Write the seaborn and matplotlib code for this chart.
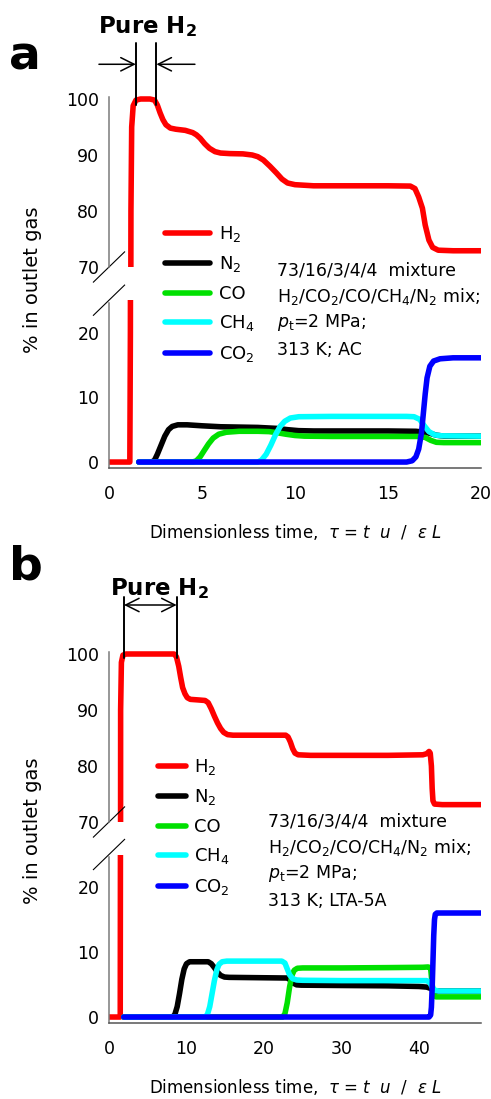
import matplotlib
matplotlib.use("Agg")
import matplotlib.pyplot as plt
from matplotlib.ticker import MultipleLocator
import seaborn as sns

# ---------------- panel a : activated carbon (AC), tau 0-20 ----------------
h2_a_tau = [0, 1.12, 1.15, 1.18, 1.22, 1.3, 1.45, 1.7, 2.2, 2.45, 2.6, 2.75, 2.9, 3.06, 3.3,
            3.6, 4.1, 4.5, 4.7, 4.9, 5.15, 5.4, 5.7, 6.0, 6.5, 7.2, 7.7, 8.0, 8.3, 8.65,
            9.0, 9.3, 9.6, 10.0, 11.0, 13.0, 15.0, 16.2, 16.45, 16.65, 16.85, 17.0, 17.2,
            17.4, 17.7, 18.5, 20.0]
h2_a_pct = [0, 0, 20, 80, 95, 98.8, 99.8, 100, 100, 99.8, 98.9, 97.5, 96.3, 95.4, 94.8,
            94.6, 94.4, 94.0, 93.6, 93.0, 92.0, 91.2, 90.6, 90.35, 90.25, 90.2, 90.0, 89.7,
            89.1, 88.0, 86.8, 85.7, 85.0, 84.7, 84.5, 84.5, 84.5, 84.45, 84.0, 82.5, 80.5,
            77.5, 74.8, 73.5, 73.0, 72.9, 72.9]

n2_a_tau = [1.6, 2.3, 2.45, 2.6, 2.8, 3.0, 3.2, 3.4, 3.7, 4.2, 5.0, 6.0, 7.0, 8.0, 9.0,
            9.6, 10.2, 11.0, 13.0, 15.0, 16.5, 17.0, 17.3, 17.6, 18.0, 20.0]
n2_a_pct = [0, 0, 0.3, 1.2, 2.6, 4.0, 5.0, 5.5, 5.75, 5.75, 5.6, 5.45, 5.4, 5.35, 5.2,
            5.0, 4.85, 4.8, 4.8, 4.8, 4.75, 4.6, 4.4, 4.15, 4.0, 4.0]

co_a_tau = [1.6, 4.5, 4.7, 4.9, 5.1, 5.35, 5.6, 5.9, 6.3, 7.0, 8.0, 8.6, 9.0, 9.5, 10.0,
            10.5, 12.0, 16.6, 17.0, 17.3, 17.6, 18.0, 20.0]
co_a_pct = [0, 0, 0.2, 0.8, 1.7, 2.8, 3.7, 4.3, 4.6, 4.75, 4.75, 4.7, 4.55, 4.3, 4.1,
            4.0, 3.95, 3.95, 3.8, 3.35, 3.05, 3.0, 3.0]

ch4_a_tau = [1.6, 8.0, 8.2, 8.45, 8.7, 8.95, 9.2, 9.45, 9.75, 10.2, 12.0, 16.0, 16.4,
             16.7, 16.95, 17.2, 17.5, 17.9, 20.0]
ch4_a_pct = [0, 0, 0.3, 1.2, 2.6, 4.2, 5.5, 6.3, 6.8, 7.0, 7.05, 7.05, 7.0, 6.6, 5.6,
             4.7, 4.2, 4.05, 4.0]

co2_a_tau = [1.6, 16.0, 16.3, 16.5, 16.65, 16.8, 16.9, 17.0, 17.1, 17.25, 17.45, 17.8,
             18.5, 20.0]
co2_a_pct = [0, 0, 0.2, 0.8, 2.0, 4.5, 7.5, 10.5, 13.0, 14.8, 15.6, 15.95, 16.1, 16.1]

# ---------------- panel b : zeolite LTA-5A, tau 0-48 ----------------
h2_b_tau = [0, 1.45, 1.48, 1.5, 1.6, 1.8, 2.2, 8.0, 8.4, 8.7, 9.0, 9.25, 9.5, 9.8, 10.1,
            10.5, 11.5, 12.4, 12.8, 13.2, 13.6, 14.0, 14.4, 14.8, 15.3, 16.0, 20.0, 22.8,
            23.1, 23.4, 23.7, 24.0, 24.4, 26.0, 30.0, 36.0, 40.5, 41.0, 41.3, 41.45, 41.6,
            41.7, 41.8, 42.0, 43.0, 48.0]
h2_b_pct = [0, 0, 30, 90, 98.5, 99.8, 100, 100, 100, 99.5, 97.8, 95.8, 94.0, 92.9, 92.2,
            91.9, 91.8, 91.7, 91.3, 90.2, 88.9, 87.7, 86.7, 86.0, 85.6, 85.5, 85.5, 85.5,
            85.2, 84.3, 83.1, 82.3, 82.0, 81.9, 81.9, 81.9, 82.0, 82.2, 82.6, 82.3, 80.0,
            76.0, 73.8, 73.2, 73.1, 73.1]

n2_b_tau = [1.9, 8.2, 8.5, 8.8, 9.1, 9.4, 9.7, 10.0, 10.4, 12.8, 13.2, 13.6, 14.0, 14.4,
            14.9, 15.5, 23.0, 23.4, 23.8, 24.2, 24.8, 30.0, 36.0, 40.0, 41.0, 41.5, 41.8,
            42.2, 48.0]
n2_b_pct = [0, 0, 0.4, 1.6, 3.6, 5.8, 7.4, 8.2, 8.5, 8.5, 8.2, 7.6, 6.9, 6.4, 6.15, 6.1,
            6.0, 5.7, 5.2, 4.95, 4.9, 4.85, 4.8, 4.7, 4.6, 4.4, 4.1, 4.0, 4.0]

co_b_tau = [1.9, 22.4, 22.7, 23.0, 23.3, 23.6, 23.9, 24.3, 25.0, 30.0, 36.0, 40.5, 41.2,
            41.5, 41.7, 41.9, 42.2, 48.0]
co_b_pct = [0, 0, 0.5, 2.2, 4.6, 6.4, 7.2, 7.5, 7.55, 7.55, 7.6, 7.65, 7.7, 7.5, 5.0,
            3.4, 3.1, 3.1]

ch4_b_tau = [1.9, 12.4, 12.7, 13.0, 13.3, 13.6, 13.9, 14.2, 14.6, 15.2, 20.0, 22.3, 22.7,
             23.0, 23.3, 23.7, 24.2, 25.0, 30.0, 36.0, 41.0, 41.4, 41.7, 42.0, 42.5, 48.0]
ch4_b_pct = [0, 0, 0.4, 1.6, 3.6, 5.6, 7.2, 8.1, 8.5, 8.6, 8.6, 8.6, 8.3, 7.4, 6.5, 5.9,
             5.7, 5.65, 5.6, 5.6, 5.6, 5.3, 4.6, 4.15, 4.0, 4.0]

co2_b_tau = [1.9, 41.3, 41.5, 41.6, 41.7, 41.8, 41.9, 42.0, 42.1, 42.3, 48.0]
co2_b_pct = [0, 0, 0.3, 1.5, 4.5, 8.5, 12.5, 15.0, 15.8, 16.0, 16.0]

gases = ["H$_2$", "N$_2$", "CO", "CH$_4$", "CO$_2$"]
colors = ["#ff0000", "#000000", "#00e000", "#00ffff", "#0000ff"]

panel_a = [(h2_a_tau, h2_a_pct), (n2_a_tau, n2_a_pct), (co_a_tau, co_a_pct),
           (ch4_a_tau, ch4_a_pct), (co2_a_tau, co2_a_pct)]
panel_b = [(h2_b_tau, h2_b_pct), (n2_b_tau, n2_b_pct), (co_b_tau, co_b_pct),
           (ch4_b_tau, ch4_b_pct), (co2_b_tau, co2_b_pct)]

xlabel = r"Dimensionless time,  $\tau$ = $t$  $u$  /  $\varepsilon$ $L$"
cond_lines = ["73/16/3/4/4  mixture",
              r"H$_2$/CO$_2$/CO/CH$_4$/N$_2$ mix;",
              r"$p_\mathrm{t}$=2 MPa;"]
adsorbents = ["313 K; AC", "313 K; LTA-5A"]

sns.set_style("white")
plt.rcParams["font.family"] = ["DejaVu Sans"]
plt.rcParams["mathtext.fontset"] = "dejavusans"
plt.rcParams["text.color"] = "black"
plt.rcParams["axes.labelcolor"] = "black"

W, H = 491, 1099
fig = plt.figure(figsize=(W / 100, H / 100), dpi=100)

AXC = "#7a7a7a"


def fx(px):
    return px / W


def fy(py):
    return 1 - py / H


def make_axes(top_up, bot_up, top_lo, bot_lo):
    left, right = 109, 481
    ax_up = fig.add_axes([fx(left), fy(bot_up), (right - left) / W, (bot_up - top_up) / H])
    ax_lo = fig.add_axes([fx(left), fy(bot_lo), (right - left) / W, (bot_lo - top_lo) / H])
    return ax_up, ax_lo


def style_pair(ax_up, ax_lo, xmax, xmajor, xminor):
    for ax in (ax_up, ax_lo):
        ax.set_facecolor("none")
        for s in ("top", "right"):
            ax.spines[s].set_visible(False)
        ax.spines["left"].set_color(AXC)
        ax.spines["left"].set_linewidth(1.1)
        ax.set_xlim(0, xmax)
        ax.set_xlabel("")
        ax.set_ylabel("")
        ax.tick_params(axis="y", which="both", direction="in", colors=AXC,
                       labelcolor="black", labelsize=12.5, pad=7, width=1.1)
        ax.tick_params(axis="y", which="major", length=7)
        ax.tick_params(axis="y", which="minor", length=5)
    ax_up.spines["bottom"].set_visible(False)
    ax_up.set_ylim(70, 101.5)
    ax_up.spines["left"].set_bounds(70, 100.35)
    ax_up.yaxis.set_major_locator(MultipleLocator(10))
    ax_up.yaxis.set_minor_locator(MultipleLocator(2))
    ax_up.set_xticks([])
    ax_up.tick_params(axis="x", which="both", bottom=False, labelbottom=False)

    ax_lo.set_ylim(-0.92, 25)
    ax_lo.spines["left"].set_bounds(-0.92, 24.6)
    ax_lo.yaxis.set_major_locator(MultipleLocator(10))
    ax_lo.yaxis.set_minor_locator(MultipleLocator(2))
    ax_lo.spines["bottom"].set_color("#555555")
    ax_lo.spines["bottom"].set_linewidth(1.1)
    ax_lo.xaxis.set_major_locator(MultipleLocator(xmajor))
    ax_lo.xaxis.set_minor_locator(MultipleLocator(xminor))
    ax_lo.tick_params(axis="x", which="both", direction="in", colors="#555555",
                      labelcolor="black", labelsize=12.5, pad=12, width=1.1, length=6)


def break_marks(ax_up, ax_lo):
    # small diagonal strokes across the y-axis gap
    fw, fh = fig.get_size_inches() * fig.dpi
    pu, pl = ax_up.get_position(), ax_lo.get_position()
    dx = 16 / (pu.width * fw)
    for ax, pos, y0 in ((ax_up, pu, 0.0), (ax_lo, pl, 1.0)):
        dy = 15.5 / (pos.height * fh)
        ax.plot([-dx, dx], [y0 - dy, y0 + dy], transform=ax.transAxes, color="black",
                lw=0.8, clip_on=False, solid_capstyle="butt")


def draw_series(ax_up, ax_lo, series):
    for (tau, pct), name, col in zip(series, gases, colors):
        for ax in (ax_up, ax_lo):
            sns.lineplot(x=tau, y=pct, ax=ax, color=col, lw=4, sort=False, estimator=None,
                         legend=False, label=name if ax is ax_lo else None,
                         solid_capstyle="round", solid_joinstyle="round")
            if ax.get_legend() is not None:
                ax.get_legend().remove()


# ---- panel a ----
a_up, a_lo = make_axes(90.6, 267, 300.2, 468)
draw_series(a_up, a_lo, panel_a)
style_pair(a_up, a_lo, 20, 5, 1)
break_marks(a_up, a_lo)

# ---- panel b ----
b_up, b_lo = make_axes(645.6, 822, 854.5, 1023)
draw_series(b_up, b_lo, panel_b)
style_pair(b_up, b_lo, 48, 10, 2)
break_marks(b_up, b_lo)

# pure-H2 window markers
for x in (1.44, 2.55):
    a_up.plot([x, x], [98.9, 110.0], color="black", lw=1.4, clip_on=False)
arrow_kw = dict(lw=1.1, color="black", shrinkA=0, shrinkB=0, mutation_scale=24)
a_up.annotate("", xy=(1.44, 106.2), xytext=(-0.54, 106.2), annotation_clip=False,
              arrowprops=dict(arrowstyle="->", **arrow_kw))
a_up.annotate("", xy=(2.55, 106.2), xytext=(4.62, 106.2), annotation_clip=False,
              arrowprops=dict(arrowstyle="->", **arrow_kw))
a_up.text(2.05, 111.8, r"Pure H$_\mathbf{2}$", ha="center", va="baseline",
          fontsize=16.5, fontweight="bold", clip_on=False)

for x in (1.94, 8.73):
    b_up.plot([x, x], [99.2, 110.2], color="black", lw=1.4, clip_on=False)
b_up.annotate("", xy=(8.73, 108.75), xytext=(1.94, 108.75), annotation_clip=False,
              arrowprops=dict(arrowstyle="<->", **arrow_kw))
b_up.text(6.45, 110.5, r"Pure H$_\mathbf{2}$", ha="center", va="baseline",
          fontsize=16.5, fontweight="bold", clip_on=False)

# panel letters
fig.text(fx(9), fy(70), "a", fontsize=34, fontweight="bold", va="baseline")
fig.text(fx(9), fy(580), "b", fontsize=34, fontweight="bold", va="baseline")

# axis titles
for ax in (a_lo, b_lo):
    ax.set_xlabel(xlabel, fontsize=12, labelpad=14)
fig.text(fx(33), fy(280), "% in outlet gas", rotation=90, fontsize=14,
         ha="center", va="center")
fig.text(fx(33), fy(831), "% in outlet gas", rotation=90, fontsize=14,
         ha="center", va="center")

# legends
handles_a, labels_a = a_lo.get_legend_handles_labels()
fig.legend(handles_a, labels_a, loc="upper left", bbox_to_anchor=(fx(165), fy(224)),
           bbox_transform=fig.transFigure, frameon=False, fontsize=13, borderpad=0,
           borderaxespad=0, handlelength=2.5, handletextpad=0.5, labelspacing=0.58)
handles_b, labels_b = b_lo.get_legend_handles_labels()
fig.legend(handles_b, labels_b, loc="upper left", bbox_to_anchor=(fx(158), fy(757)),
           bbox_transform=fig.transFigure, frameon=False, fontsize=13, borderpad=0,
           borderaxespad=0, handlelength=1.55, handletextpad=0.45, labelspacing=0.58)

# operating conditions
for x0, baselines, ads in ((277, (275, 301.7, 326.7, 355), adsorbents[0]),
                           (268, (826, 853, 878, 906), adsorbents[1])):
    for txt, yb in zip(cond_lines + [ads], baselines):
        fig.text(fx(x0), fy(yb), txt, fontsize=12.5, va="baseline", ha="left")

fig.savefig("out.png", dpi=100)
